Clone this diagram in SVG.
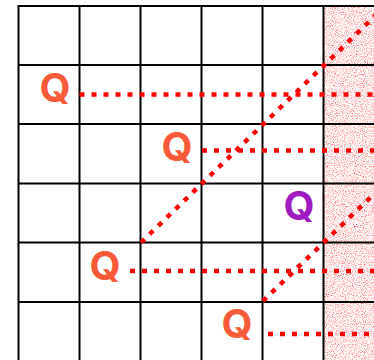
<svg xmlns="http://www.w3.org/2000/svg" width="374" height="360" viewBox="0 0 374 360">
<style>
.grid{stroke:#000;stroke-width:2;fill:none}
.path{stroke:#ff0000;stroke-width:4.5;stroke-dasharray:5 7;fill:none}
.q{font-family:Inter,"DejaVu Sans",sans-serif;font-weight:bold;font-size:40px;text-anchor:middle}
.qo{fill:#f95a3a}
.qp{fill:#a01cc0}
</style>
<defs>
<filter id="noise" x="0" y="0" width="100%" height="100%" filterUnits="objectBoundingBox">
<feTurbulence type="fractalNoise" baseFrequency="0.9" numOctaves="2" seed="7"/>
<feColorMatrix type="matrix" values="0 0 0 0 1  2.2 0 0 0 -0.3  2.2 0 0 0 -0.3  0 0 0 0 1"/>
</filter>
</defs>
<rect width="374" height="360" fill="#fff"/>
<rect id="shade" x="323.5" y="6" width="51" height="354" fill="#fcd0d0" filter="url(#noise)"/>
<g id="grid" class="grid">
<line x1="18.5" y1="6" x2="374" y2="6"/>
<line x1="18.5" y1="65" x2="374" y2="65"/>
<line x1="18.5" y1="124" x2="374" y2="124"/>
<line x1="18.5" y1="183.5" x2="374" y2="183.5"/>
<line x1="18.5" y1="242.5" x2="374" y2="242.5"/>
<line x1="18.5" y1="302" x2="374" y2="302"/>
<line x1="18.5" y1="5" x2="18.5" y2="360"/>
<line x1="79.5" y1="5" x2="79.5" y2="360"/>
<line x1="140.5" y1="5" x2="140.5" y2="360"/>
<line x1="201.5" y1="5" x2="201.5" y2="360"/>
<line x1="262.5" y1="5" x2="262.5" y2="360"/>
<line x1="323.5" y1="5" x2="323.5" y2="360"/>
</g>
<g id="connectors" class="path">
<line x1="79.5" y1="94.5" x2="374" y2="94.5"/>
<line x1="202" y1="150.5" x2="374" y2="150.5"/>
<line x1="130" y1="271" x2="374" y2="271"/>
<line x1="268" y1="334" x2="374" y2="334"/>
<line x1="141" y1="242.5" x2="376" y2="15"/>
<line x1="263" y1="301" x2="376" y2="192"/>
</g>
<g id="q1"><text class="q qo" x="55" y="102">Q</text></g>
<g id="q2"><text class="q qo" x="177" y="161">Q</text></g>
<g id="q3"><text class="q qp" x="299" y="220">Q</text></g>
<g id="q4"><text class="q qo" x="105" y="280">Q</text></g>
<g id="q5"><text class="q qo" x="237" y="338">Q</text></g>
</svg>
